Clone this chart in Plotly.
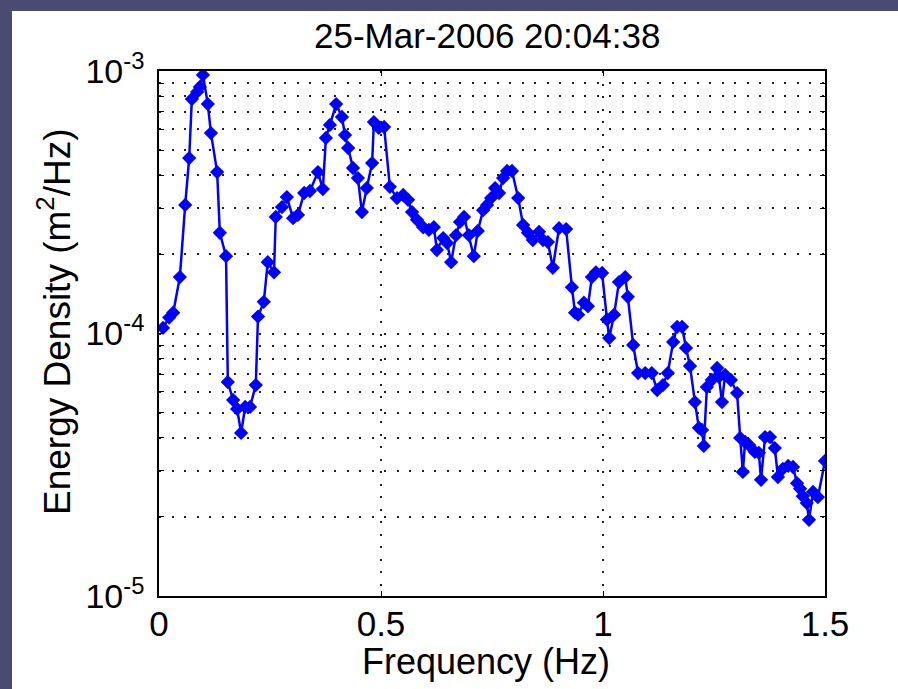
import plotly.graph_objects as go

# Wave energy spectrum, 25-Mar-2006 20:04:38
freq_hz = [0.009, 0.023, 0.032, 0.047, 0.059, 0.068, 0.074, 0.086, 0.092, 0.099,
           0.110, 0.117, 0.131, 0.137, 0.151, 0.155, 0.167, 0.176, 0.185, 0.194,
           0.205, 0.218, 0.223, 0.236, 0.245, 0.259, 0.263, 0.277, 0.288, 0.302,
           0.313, 0.327, 0.340, 0.358, 0.369, 0.376, 0.385, 0.399, 0.412, 0.419,
           0.426, 0.437, 0.448, 0.457, 0.468, 0.480, 0.484, 0.495, 0.507, 0.520,
           0.536, 0.550, 0.561, 0.570, 0.581, 0.595, 0.608, 0.619, 0.626, 0.640,
           0.649, 0.658, 0.669, 0.678, 0.687, 0.698, 0.709, 0.718, 0.730, 0.739,
           0.748, 0.757, 0.766, 0.775, 0.784, 0.795, 0.809, 0.820, 0.831, 0.842,
           0.856, 0.865, 0.876, 0.887, 0.901, 0.917, 0.930, 0.937, 0.944, 0.957,
           0.966, 0.975, 0.984, 0.998, 1.009, 1.014, 1.025, 1.036, 1.050, 1.056,
           1.068, 1.079, 1.095, 1.110, 1.122, 1.135, 1.146, 1.158, 1.167, 1.178,
           1.187, 1.196, 1.207, 1.216, 1.223, 1.227, 1.234, 1.245, 1.257, 1.261,
           1.268, 1.275, 1.288, 1.302, 1.309, 1.315, 1.320, 1.329, 1.342, 1.351,
           1.356, 1.365, 1.376, 1.387, 1.394, 1.405, 1.417, 1.428, 1.437, 1.444,
           1.450, 1.459, 1.464, 1.473, 1.484, 1.500]

energy_density = [1.05e-4, 1.15e-4, 1.20e-4, 1.64e-4, 3.09e-4, 4.66e-4, 7.82e-4, 8.32e-4, 8.69e-4, 9.66e-4,
                  7.48e-4, 5.80e-4, 4.12e-4, 2.42e-4, 1.97e-4, 6.53e-5, 5.58e-5, 5.16e-5, 4.18e-5, 5.25e-5,
                  5.25e-5, 6.36e-5, 1.16e-4, 1.32e-4, 1.87e-4, 1.71e-4, 2.78e-4, 3.03e-4, 3.31e-4, 2.75e-4,
                  2.83e-4, 3.43e-4, 3.49e-4, 4.12e-4, 3.55e-4, 5.56e-4, 6.23e-4, 7.48e-4, 6.68e-4, 5.70e-4,
                  5.09e-4, 4.27e-4, 3.91e-4, 2.90e-4, 3.58e-4, 4.46e-4, 6.39e-4, 6.07e-4, 6.12e-4, 3.62e-4,
                  3.28e-4, 3.37e-4, 3.23e-4, 2.90e-4, 2.71e-4, 2.54e-4, 2.48e-4, 2.54e-4, 2.08e-4, 2.31e-4,
                  2.21e-4, 1.87e-4, 2.37e-4, 2.66e-4, 2.78e-4, 2.37e-4, 1.97e-4, 2.46e-4, 2.95e-4, 3.09e-4,
                  3.28e-4, 3.58e-4, 3.43e-4, 3.91e-4, 4.16e-4, 4.16e-4, 3.28e-4, 2.59e-4, 2.42e-4, 2.27e-4,
                  2.44e-4, 2.27e-4, 2.23e-4, 1.78e-4, 2.52e-4, 2.50e-4, 1.50e-4, 1.20e-4, 1.18e-4, 1.31e-4,
                  1.27e-4, 1.64e-4, 1.71e-4, 1.70e-4, 1.13e-4, 9.61e-5, 1.18e-4, 1.57e-4, 1.64e-4, 1.38e-4,
                  9.04e-5, 7.07e-5, 7.07e-5, 7.07e-5, 6.09e-5, 6.36e-5, 7.07e-5, 9.28e-5, 1.06e-4, 1.06e-4,
                  8.81e-5, 7.52e-5, 5.48e-5, 4.37e-5, 4.29e-5, 3.73e-5, 6.25e-5, 6.65e-5, 7.39e-5, 6.83e-5,
                  5.48e-5, 6.95e-5, 6.65e-5, 5.93e-5, 4.00e-5, 2.97e-5, 3.86e-5, 3.76e-5, 3.54e-5, 3.51e-5,
                  2.77e-5, 4.03e-5, 4.03e-5, 3.66e-5, 2.84e-5, 3.05e-5, 3.13e-5, 3.10e-5, 2.69e-5, 2.56e-5,
                  2.40e-5, 2.26e-5, 1.95e-5, 2.49e-5, 2.38e-5, 3.27e-5]

x_ticks = [0, 0.5, 1, 1.5]
x_tick_labels = ["0", "0.5", "1", "1.5"]
decades = [-5, -4, -3]

# log-axis ticks: every 1..9 multiple, labels only on the decades
y_ticks, y_tick_labels = [], []
for d in decades:
    for m in range(1, 10):
        if d == decades[-1] and m > 1:
            break
        y_ticks.append(m * 10.0 ** d)
        y_tick_labels.append(f"10<sup>{d}</sup>" if m == 1 else "")

FONT = "Liberation Sans, Arial, sans-serif"
W, H = 898, 689
L, R, T, B = 159, 825, 71, 596          # plot box in pixels
pw, ph = R - L, B - T


def px_x(p):
    return (p - L) / pw


def px_y(p):
    return (B - p) / ph


fig = go.Figure()
fig.add_trace(go.Scatter(
    x=freq_hz, y=energy_density, mode="lines+markers",
    line=dict(color="#0000ff", width=2.5),
    marker=dict(symbol="diamond", size=11, color="#0000ff"),
    cliponaxis=True, showlegend=False,
))

grid_dash = "2px,10.5px"
fig.update_xaxes(
    range=[0, 1.5], tickvals=x_ticks, ticktext=x_tick_labels,
    showline=True, mirror="ticks", linecolor="black", linewidth=1.5,
    ticks="inside", ticklen=5, tickcolor="black", tickwidth=1,
    showgrid=True, gridcolor="#222", griddash=grid_dash, gridwidth=1.5,
    zeroline=False, tickfont=dict(family=FONT, size=35, color="black"),
    ticklabelstandoff=-4,
)
fig.update_yaxes(
    type="log", range=[-5, -3], tickvals=y_ticks, ticktext=y_tick_labels,
    showline=True, mirror="ticks", linecolor="black", linewidth=1.5,
    ticks="inside", ticklen=5, tickcolor="black", tickwidth=1,
    showgrid=True, gridcolor="#222", griddash=grid_dash, gridwidth=1.5,
    zeroline=False, tickfont=dict(family=FONT, size=34, color="black"),
    ticklabelstandoff=6,
)

frame = "#4a4a72"
fig.update_layout(
    width=W, height=H,
    margin=dict(l=L, r=W - R, t=T, b=H - B, pad=0),
    paper_bgcolor="white", plot_bgcolor="white",
    font=dict(family=FONT, size=35, color="black"),
    shapes=[
        dict(type="rect", xref="paper", yref="paper", layer="below",
             x0=px_x(-20), x1=px_x(12), y0=px_y(H + 20), y1=px_y(-20),
             fillcolor=frame, line=dict(width=0)),
        dict(type="rect", xref="paper", yref="paper", layer="below",
             x0=px_x(-20), x1=px_x(W + 20), y0=px_y(11), y1=px_y(-20),
             fillcolor=frame, line=dict(width=0)),
    ],
    annotations=[
        dict(text="25-Mar-2006 20:04:38", xref="paper", yref="paper",
             x=px_x(487), y=px_y(35), xanchor="center", yanchor="middle",
             showarrow=False, font=dict(family=FONT, size=35)),
        dict(text="Frequency (Hz)", xref="paper", yref="paper",
             x=px_x(486), y=px_y(661), xanchor="center", yanchor="middle",
             showarrow=False, font=dict(family=FONT, size=36)),
        dict(text="Energy Density (m<sup>2</sup>/Hz)", xref="paper", yref="paper",
             x=px_x(54), y=px_y(322), xanchor="center", yanchor="middle",
             textangle=-90, showarrow=False, font=dict(family=FONT, size=37)),
    ],
)

fig.write_html("out.html")
